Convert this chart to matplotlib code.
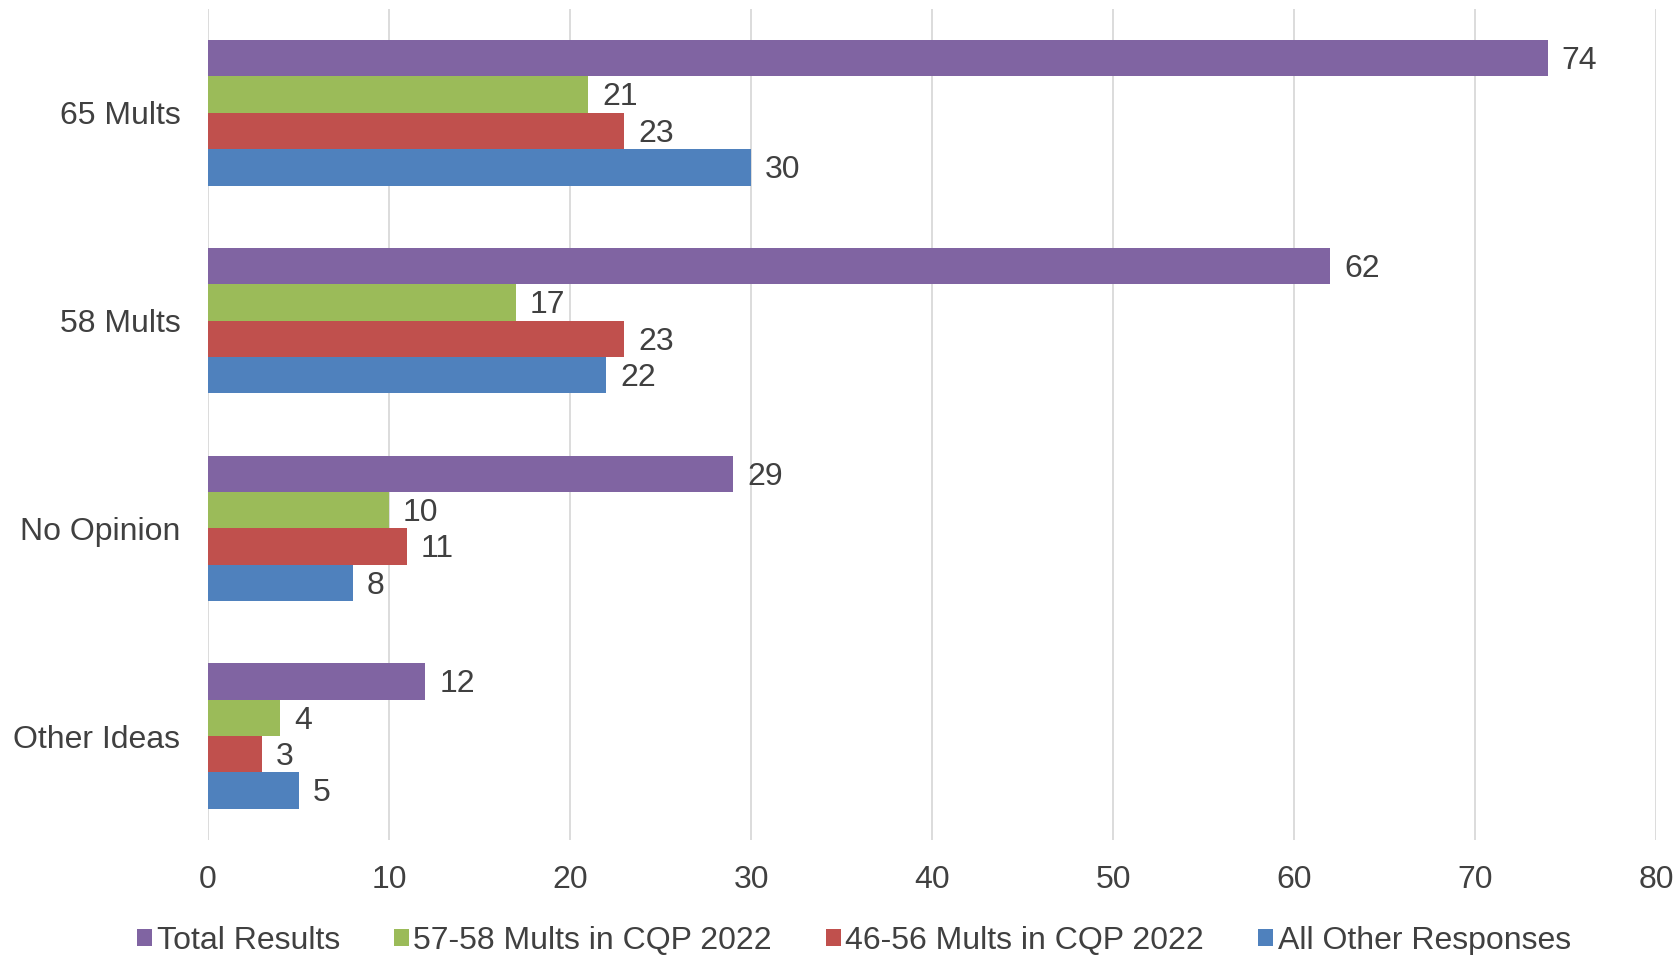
import matplotlib
matplotlib.use("Agg")
import matplotlib.pyplot as plt
import numpy as np

plt.rcParams['font.family'] = ['Liberation Sans', 'DejaVu Sans']

categories = ["65 Mults", "58 Mults", "No Opinion", "Other Ideas"]
series_names = ["Total Results", "57-58 Mults in CQP 2022", "46-56 Mults in CQP 2022", "All Other Responses"]
total_results = [74, 62, 29, 12]
mults_57_58 = [21, 17, 10, 4]
mults_46_56 = [23, 23, 11, 3]
all_other = [30, 22, 8, 5]
colors = ["#8064A2", "#9BBB59", "#C0504D", "#4F81BD"]

series = [total_results, mults_57_58, mults_46_56, all_other]
text_color = "#404040"
fs = 23

fig = plt.figure(figsize=(16.78, 9.55), dpi=100)
ax = fig.add_axes([0.124, 0.1204, 0.863, 0.8702])

h = 0.175
y = np.arange(len(categories))
for k, (vals, name, col) in enumerate(zip(series, series_names, colors)):
    pos = y + (k - 1.5) * h
    bars = ax.barh(pos, vals, height=h, color=col, label=name, zorder=3)
    for b, v in zip(bars, vals):
        ax.annotate(str(v), (b.get_width(), b.get_y() + b.get_height() / 2),
                    xytext=(10, -2), textcoords="offset points",
                    ha="left", va="center", fontsize=fs, color=text_color)

ax.set_xlim(0, 80)
ax.set_ylim(len(categories) - 0.5, -0.5)
ax.set_xticks(np.arange(0, 81, 10))
ax.set_yticks(y)
ax.set_yticklabels(categories)
ax.tick_params(axis="both", length=0, labelsize=fs, labelcolor=text_color)
ax.tick_params(axis="y", pad=20)
ax.tick_params(axis="x", pad=18)
ax.grid(axis="x", color="#D9D9D9", linewidth=1.3, zorder=0)
for s in ["top", "right", "bottom", "left"]:
    ax.spines[s].set_visible(False)

handles, labels = ax.get_legend_handles_labels()
leg = fig.legend(handles, labels, loc="lower center", ncol=4, frameon=False,
                 bbox_to_anchor=(0.509, -0.031), fontsize=fs,
                 handlelength=0.45, handleheight=0.45, handletextpad=0.15,
                 columnspacing=1.7, labelcolor=text_color)

fig.savefig("out.png", dpi=100)
